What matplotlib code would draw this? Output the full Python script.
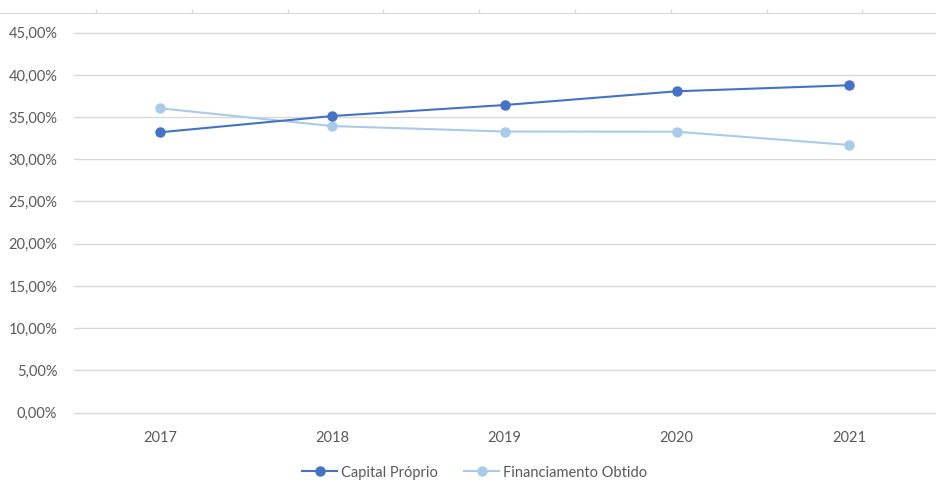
import matplotlib.pyplot as plt
from matplotlib.ticker import FuncFormatter

years = ['2017', '2018', '2019', '2020', '2021']
capital_proprio = [33.20, 35.13, 36.43, 38.06, 38.77]
financiamento_obtido = [36.04, 33.94, 33.29, 33.27, 31.70]

dark = '#4472C4'
light = '#A9CBEA'
grid = '#D9D9D9'
txt = '#595959'

plt.rcParams['font.family'] = ['Lato', 'DejaVu Sans']

fig = plt.figure(figsize=(9.36, 4.8), dpi=100)
ax = fig.add_axes([74 / 936, 67.5 / 480, 861 / 936, 379.8 / 480])

x = range(len(years))
ax.plot(x, capital_proprio, color=dark, lw=1.5, marker='o', ms=6.5,
        label='Capital Próprio', zorder=3)
ax.plot(x, financiamento_obtido, color=light, lw=1.5, marker='o', ms=6.5,
        label='Financiamento Obtido', zorder=2)

ax.set_xlim(-0.5, len(years) - 0.5)
ax.set_ylim(0, 45)
ax.set_yticks(range(0, 46, 5))
ax.yaxis.set_major_formatter(FuncFormatter(lambda v, p: f'{v:.2f}%'.replace('.', ',')))
ax.set_xticks(list(x))
ax.set_xticklabels(years)
ax.grid(axis='y', color=grid, lw=1)
for gl in ax.get_ygridlines():
    gl.set_clip_on(False)
ax.set_axisbelow(True)
for s in ax.spines.values():
    s.set_visible(False)
ax.tick_params(axis='both', length=0, colors=txt, labelsize=10.5)
ax.tick_params(axis='y', pad=12)
ax.tick_params(axis='x', pad=13)

leg = ax.legend(loc='upper center', bbox_to_anchor=(0.5 - 30 / 861, -0.105), ncol=2,
                frameon=False, fontsize=10.5, handlelength=2.4, columnspacing=1.8,
                handletextpad=0.25)
for t in leg.get_texts():
    t.set_color(txt)

# thin axis line with ticks along the top edge
top = fig.add_axes([0, (480 - 13) / 480, 1, 0.001])
top.set_xlim(0, 936)
top.set_ylim(0, 1)
top.set_yticks([])
top.set_xticks([96 + 95.8 * k for k in range(9)])
top.set_xticklabels([])
top.tick_params(axis='x', direction='out', length=3, color=grid, width=1)
top.xaxis.set_ticks_position('top')
for side in ['bottom', 'left', 'right']:
    top.spines[side].set_visible(False)
top.spines['top'].set_color(grid)
top.patch.set_visible(False)

fig.savefig('out.png', dpi=100)
